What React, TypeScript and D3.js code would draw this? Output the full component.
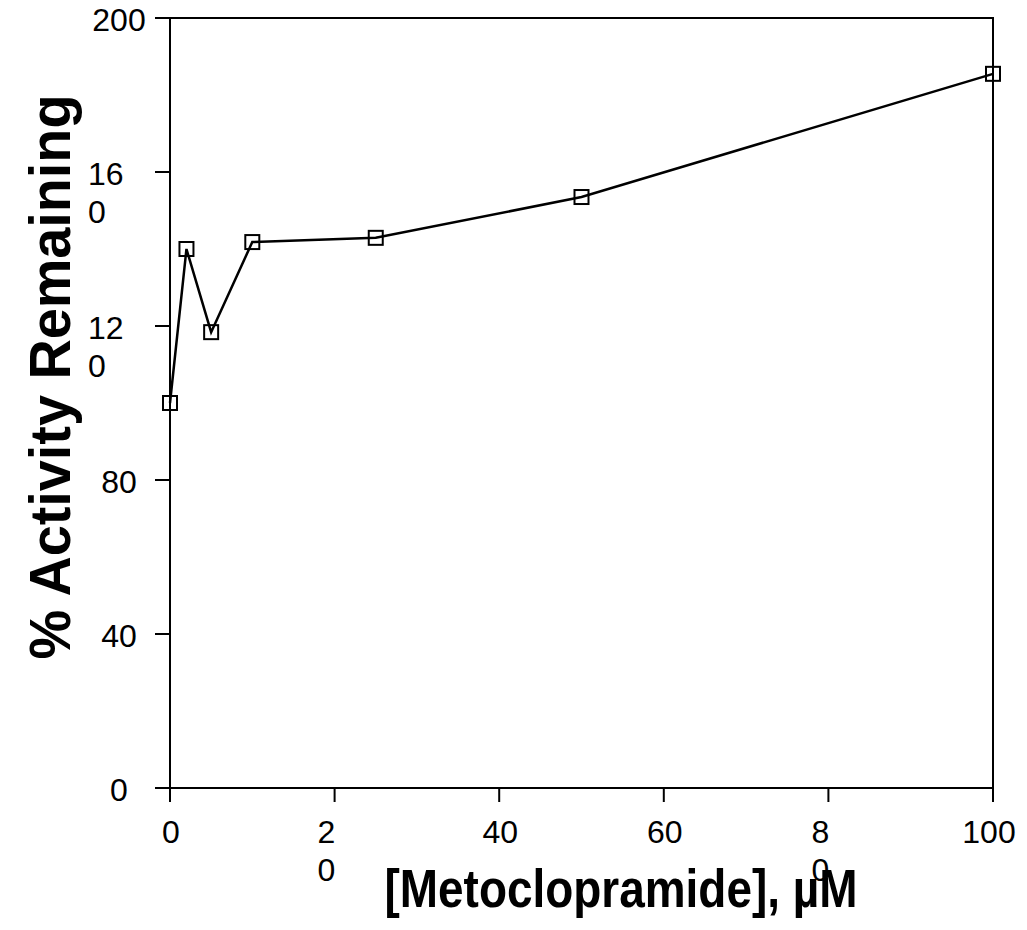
import React from "react";
import * as d3 from "d3";

const concentrations = [0, 2, 5, 10, 25, 50, 100];
const activity = [100, 140, 118.4, 141.8, 142.9, 153.5, 185.5];
const yTicks = [0, 40, 80, 120, 160, 200];
const yTickLabels = ["0", "40", "80", "12\n0", "16\n0", "200"];
const xTicks = [0, 20, 40, 60, 80, 100];
const xTickLabels = ["0", "2\n0", "40", "60", "8\n0", "100"];
const xTitle = "[Metoclopramide], µM";
const yTitle = "% Activity Remaining";

const W = 1027;
const H = 930;
const M = { left: 170, right: 993, top: 18, bottom: 788 };
const FONT = "'Liberation Sans', Arial, Helvetica, sans-serif";

export default function App() {
  const x = d3.scaleLinear().domain([0, 100]).range([M.left, M.right]);
  const y = d3.scaleLinear().domain([0, 200]).range([M.bottom, M.top]);
  const line = d3
    .line<number>()
    .x((_, i) => x(concentrations[i]))
    .y((d) => y(d));
  const sq = 14;
  const lh = 38;
  return (
    <svg
      width={W}
      height={H}
      style={{ position: "absolute", left: 0, top: 0, background: "#fff" }}
      fontFamily={FONT}
    >
      <rect x={0} y={0} width={W} height={H} fill="#fff" />
      {/* frame */}
      <rect
        x={x(0)}
        y={y(200)}
        width={x(100) - x(0)}
        height={y(0) - y(200)}
        fill="none"
        stroke="#000"
        strokeWidth={2}
      />
      {/* y ticks */}
      {yTicks.map((t, i) => {
        const lines = yTickLabels[i].split("\n");
        const multi = lines.length > 1;
        return (
          <g key={"y" + t}>
            <line x1={x(0) - 15} x2={x(0)} y1={y(t)} y2={y(t)} stroke="#000" strokeWidth={2} />
            {lines.map((s, j) => (
              <text
                key={j}
                x={multi ? 88 : 119}
                y={y(t) + 13 + j * lh}
                fontSize={32}
                textAnchor={multi ? "start" : "middle"}
              >
                {s}
              </text>
            ))}
          </g>
        );
      })}
      {/* x ticks */}
      {xTicks.map((t, i) => {
        const lines = xTickLabels[i].split("\n");
        const multi = lines.length > 1;
        return (
          <g key={"x" + t}>
            <line x1={x(t)} x2={x(t)} y1={y(0)} y2={y(0) + 14} stroke="#000" strokeWidth={2} />
            {lines.map((s, j) => (
              <text
                key={j}
                x={multi ? x(t) - 17 : x(t) + (t === 100 ? -4 : 1)}
                y={843 + j * lh}
                fontSize={32}
                textAnchor={multi ? "start" : "middle"}
              >
                {s}
              </text>
            ))}
          </g>
        );
      })}
      {/* series */}
      <path d={line(activity) || ""} fill="none" stroke="#000" strokeWidth={2.5} />
      {activity.map((v, i) => (
        <rect
          key={i}
          x={x(concentrations[i]) - sq / 2}
          y={y(v) - sq / 2}
          width={sq}
          height={sq}
          fill="none"
          stroke="#000"
          strokeWidth={2}
        />
      ))}
      {/* titles */}
      <text
        x={621}
        y={907}
        fontSize={54}
        fontWeight="bold"
        textAnchor="middle"
        textLength={473}
        lengthAdjust="spacingAndGlyphs"
      >
        {xTitle}
      </text>
      <text
        transform={`translate(70, 377) rotate(-90)`}
        fontSize={58}
        fontWeight="bold"
        textAnchor="middle"
        textLength={565}
        lengthAdjust="spacingAndGlyphs"
      >
        {yTitle}
      </text>
    </svg>
  );
}
